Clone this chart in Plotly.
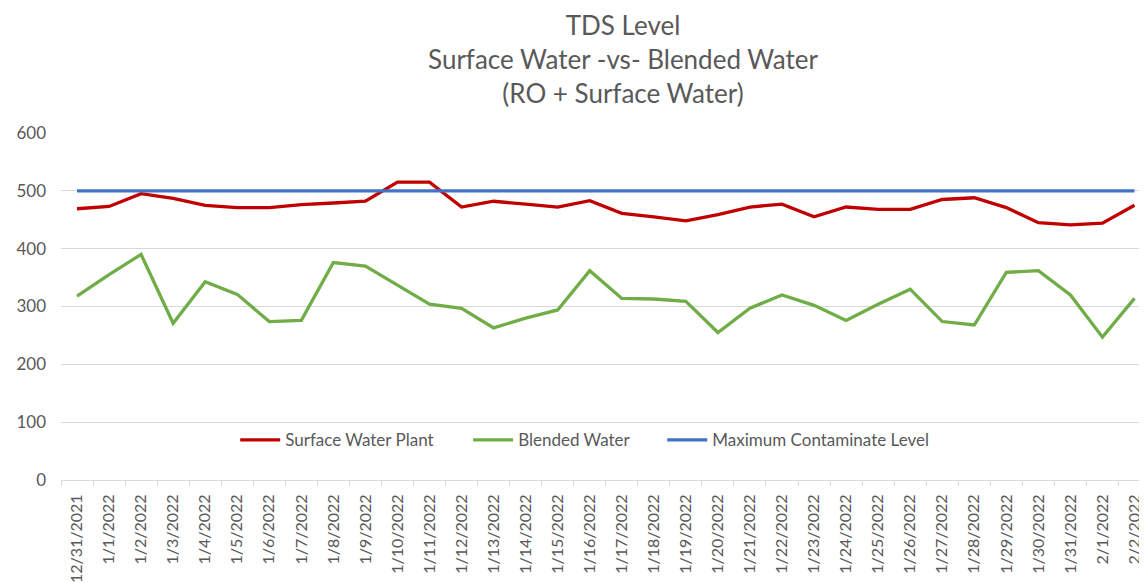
import plotly.graph_objects as go

dates = ["12/31/2021", "1/1/2022", "1/2/2022", "1/3/2022", "1/4/2022", "1/5/2022", "1/6/2022",
         "1/7/2022", "1/8/2022", "1/9/2022", "1/10/2022", "1/11/2022", "1/12/2022", "1/13/2022",
         "1/14/2022", "1/15/2022", "1/16/2022", "1/17/2022", "1/18/2022", "1/19/2022", "1/20/2022",
         "1/21/2022", "1/22/2022", "1/23/2022", "1/24/2022", "1/25/2022", "1/26/2022", "1/27/2022",
         "1/28/2022", "1/29/2022", "1/30/2022", "1/31/2022", "2/1/2022", "2/2/2022"]

surface_water = [469, 473, 495, 487, 475, 471, 471, 476, 479, 482, 515, 515, 472, 482,
                 477, 472, 483, 461, 455, 448, 459, 472, 477, 455, 472, 468, 468, 485,
                 488, 471, 445, 441, 444, 475]

blended_water = [318, 355, 390, 271, 343, 321, 274, 276, 376, 370, 337, 304, 297, 263,
                 280, 294, 362, 314, 313, 309, 255, 297, 320, 302, 276, 304, 330, 274,
                 268, 359, 362, 320, 247, 314]

mcl = [500] * len(dates)

y_ticks = [0, 100, 200, 300, 400, 500, 600]

grey = "#595959"
W, H = 1147, 583
OFF = 8  # page body margin offset

fig = go.Figure()
fig.add_trace(go.Scatter(x=dates, y=surface_water, mode="lines", name="Surface Water Plant",
                         line=dict(color="#C00000", width=3.3), legend="legend"))
fig.add_trace(go.Scatter(x=dates, y=blended_water, mode="lines", name="Blended Water",
                         line=dict(color="#70AD47", width=3.3), legend="legend2"))
fig.add_trace(go.Scatter(x=dates, y=mcl, mode="lines", name="Maximum Contaminate Level",
                         line=dict(color="#4472C4", width=3.3), legend="legend3"))

ml, mr, mt, mb = 56 - OFF, OFF, 133 - OFF, 583 - (482 - OFF)
pw = W - ml - mr
ph = H - mt - mb

def px_x(p):
    return (p - OFF - ml) / pw

def px_y(p):
    return (H - mb - (p - OFF)) / ph

leg_common = dict(orientation="h", xanchor="left", yanchor="middle", bgcolor="rgba(0,0,0,0)",
                  font=dict(family="Lato", size=17, color=grey), borderwidth=0, itemwidth=40)

fig.update_layout(
    width=W, height=H,
    margin=dict(l=ml, r=mr, t=mt, b=mb),
    paper_bgcolor="white", plot_bgcolor="white",
    font=dict(family="Lato", color=grey),
    showlegend=True,
    title=dict(text="TDS Level<br>Surface Water -vs- Blended Water<br>(RO + Surface Water)",
               x=(623 - OFF) / W, xanchor="center", xref="container",
               y=1 - 27 / H, yanchor="top", yref="container",
               font=dict(family="Lato", size=26, color=grey)),
    legend=dict(x=px_x(231), y=px_y(442), **leg_common),
    legend2=dict(x=px_x(465), y=px_y(442), **leg_common),
    legend3=dict(x=px_x(660), y=px_y(442), **leg_common),
    xaxis=dict(type="category", range=[-0.5, 33.39], tickangle=-90,
               tickfont=dict(family="Lato", size=16, color=grey),
               ticks="outside", tickson="boundaries", ticklen=5, tickcolor="#d9d9d9",
               showline=True, linecolor="#d9d9d9", linewidth=1,
               showgrid=False, zeroline=False, ticklabelstandoff=7),
    yaxis=dict(range=[0, 600], tickvals=y_ticks, ticktext=[str(v) for v in y_ticks],
               tickfont=dict(family="Lato", size=17, color=grey),
               showgrid=True, gridcolor="#d9d9d9", gridwidth=1,
               zeroline=False, showline=False, ticks="", ticklabelstandoff=14),
)

fig.write_html("out.html")
